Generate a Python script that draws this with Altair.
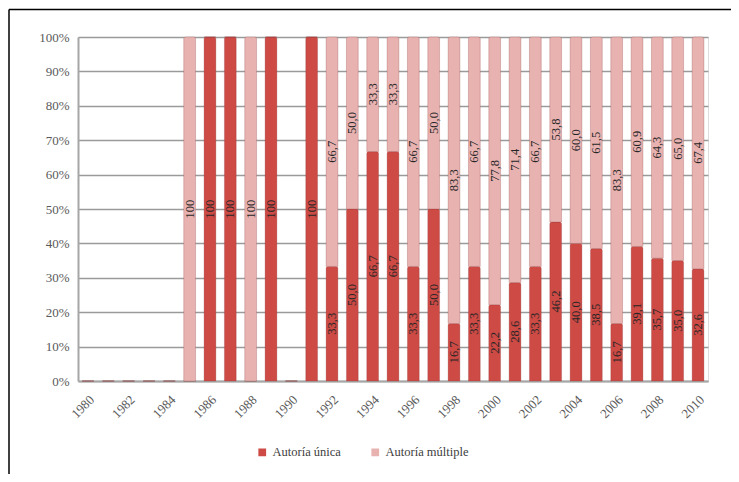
import altair as alt
import pandas as pd

years = list(range(1980, 2011))
unica = [0, 0, 0, 0, 0,
         0, 100, 100, 0, 100,
         0, 100, 33.3, 50.0, 66.7, 66.7, 33.3, 50.0, 16.7, 33.3,
         22.2, 28.6, 33.3, 46.2, 40.0, 38.5, 16.7, 39.1, 35.7, 35.0, 32.6]
multiple = [0, 0, 0, 0, 0,
            100, 0, 0, 100, 0,
            0, 0, 66.7, 50.0, 33.3, 33.3, 66.7, 50.0, 83.3, 66.7,
            77.8, 71.4, 66.7, 53.8, 60.0, 61.5, 83.3, 60.9, 64.3, 65.0, 67.4]
series = ["Autoría única", "Autoría múltiple"]
colors = ["#CD4A45", "#E8B2B0"]
y_ticks = [0, 10, 20, 30, 40, 50, 60, 70, 80, 90, 100]


def fmt(v):
    if v == 100:
        return "100"
    return f"{v:.1f}".replace(".", ",")


rows = []
for i, yr in enumerate(years):
    for k, (name, vals) in enumerate(zip(series, [unica, multiple])):
        v = vals[i]
        rows.append({"year": yr, "serie": name, "order": k, "value": v,
                     "label": fmt(v) if v > 0 else ""})
df = pd.DataFrame(rows)

FONT = "Liberation Serif"
W, H = 630, 344

base = alt.Chart(df).transform_stack(
    stack="value", groupby=["year"], as_=["v0", "v1"],
    sort=[alt.SortField("order", order="ascending")]
).transform_calculate(mid="(datum.v0 + datum.v1) / 2")

xaxis = alt.Axis(title=None, labelAngle=-45, labelAlign="right",
                 labelBaseline="top", labelFont=FONT, labelFontSize=13,
                 labelColor="#595959", ticks=False, labelPadding=12,
                 domainColor="#a6a6a6", domainWidth=2,
                 labelOverlap=False,
                 labelExpr="datum.value % 2 == 0 ? datum.value : ''")
xscale = alt.Scale(paddingInner=0.42, paddingOuter=0.2)
yaxis = alt.Axis(title=None, values=y_ticks, labelOverlap=False,
                 labelExpr="datum.value + '%'",
                 labelFont=FONT, labelFontSize=13, labelColor="#595959",
                 ticks=False, labelPadding=9,
                 gridColor="#9a9a9a", gridWidth=1.5,
                 domainColor="#a6a6a6", domainWidth=2)
yscale = alt.Scale(domain=[0, 100])

bars = base.mark_bar(stroke="#8a3a3a", strokeWidth=0.6, strokeOpacity=0.45,
                     cornerRadiusTopLeft=2, cornerRadiusTopRight=2).encode(
    x=alt.X("year:O", scale=xscale, axis=xaxis),
    y=alt.Y("v0:Q", scale=yscale, axis=yaxis),
    y2="v1:Q",
    color=alt.Color("serie:N", scale=alt.Scale(domain=series, range=colors),
                    legend=alt.Legend(title=None, orient="none", direction="horizontal",
                                      legendX=178, legendY=409,
                                      labelFont=FONT, labelFontSize=12.5,
                                      labelColor="#404040", symbolType="square",
                                      symbolSize=60, symbolStrokeWidth=0,
                                      columnPadding=28)),
)

labels = base.transform_filter("datum.value > 0").mark_text(
    angle=270, font=FONT, fontSize=12.5, color="#262626",
    align="center", baseline="middle"
).encode(
    x=alt.X("year:O", scale=xscale, axis=xaxis),
    y=alt.Y("mid:Q", scale=yscale, axis=yaxis),
    text="label:N",
)

frame_df = pd.DataFrame({"a": [0]})
top_line = alt.Chart(frame_df).mark_rule(color="#000000", strokeWidth=1.5).encode(
    x=alt.value(-69), x2=alt.value(W + 23), y=alt.value(-27.5))
left_line = alt.Chart(frame_df).mark_rule(color="#000000", strokeWidth=1.5).encode(
    x=alt.value(-69), y=alt.value(-27.5), y2=alt.value(H + 93))

chart = alt.layer(bars, labels, top_line, left_line).properties(
    width=W, height=H,
    autosize=alt.AutoSizeParams(type="none"),
    padding={"left": 70, "top": 29, "right": 23, "bottom": 93},
).configure_view(stroke=None).configure(background="#ffffff")

chart.save("out.html", embed_options={"renderer": "svg", "actions": False})
